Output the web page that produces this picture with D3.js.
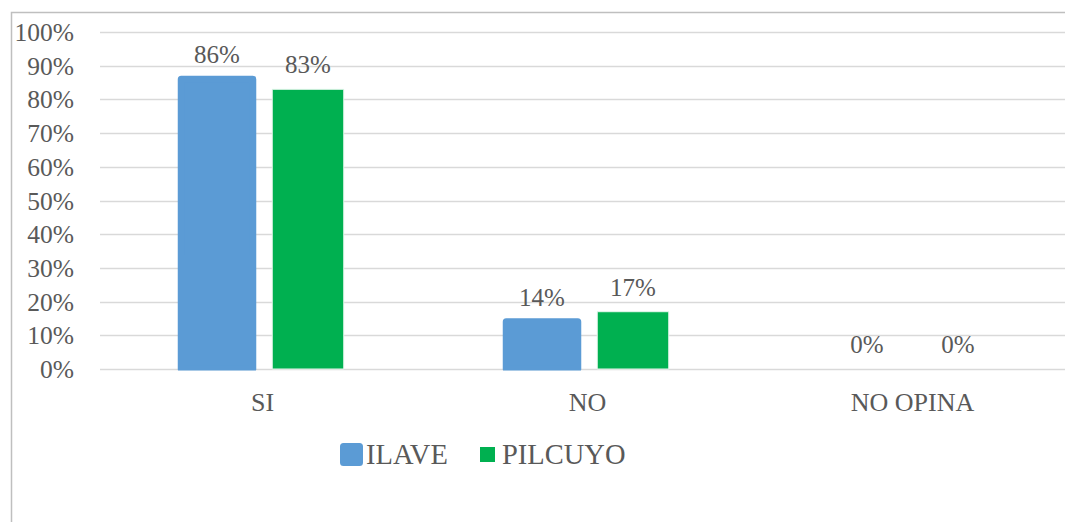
<!DOCTYPE html>
<html>
<head>
<meta charset="utf-8">
<script src="https://cdn.jsdelivr.net/npm/d3@7/dist/d3.min.js"></script>
<style>
  body { margin: 0; background: #fff; font-family: 'Liberation Serif', 'Times New Roman', serif; }
  #chart text { font-family: 'Liberation Serif', 'Times New Roman', serif; }
</style>
</head>
<body>
<div id="chart"></div>
<script>
// data
const categories = ['SI', 'NO', 'NO OPINA'];
const seriesNames = ['ILAVE', 'PILCUYO'];
const ilave = [0.86, 0.14, 0];
const pilcuyo = [0.83, 0.17, 0];
const yTicks = [0, 0.1, 0.2, 0.3, 0.4, 0.5, 0.6, 0.7, 0.8, 0.9, 1];

const colors = { ILAVE: '#5B9BD5', PILCUYO: '#00B050' };
const W = 1065, H = 522;
const plot = { left: 100, right: 1075, top: 32, bottom: 369 };

const svg = d3.select('#chart').append('svg')
  .attr('width', W)
  .attr('height', H);

// chart frame (runs off right and bottom edge)
svg.append('rect')
  .attr('x', 11.5).attr('y', 12.5)
  .attr('width', 1200).attr('height', 700)
  .attr('fill', 'none')
  .attr('stroke', '#bfbfbf')
  .attr('stroke-width', 1.5);

let x = d3.scaleBand()
  .domain(categories)
  .range([plot.left, plot.right])
  .padding(0);

let bw = x.bandwidth();
let x1 = d3.scaleBand()
  .domain(seriesNames)
  .range([bw * 0.25, bw * 0.75])
  .paddingInner(0.214)
  .paddingOuter(0);

let y = d3.scaleLinear()
  .domain([0, 1])
  .range([plot.bottom, plot.top]);

// gridlines
svg.append('g')
  .selectAll('line')
  .data(yTicks)
  .enter().append('line')
  .attr('x1', plot.left).attr('x2', W)
  .attr('y1', d => Math.round(y(d)) + 0.5)
  .attr('y2', d => Math.round(y(d)) + 0.5)
  .attr('stroke', '#d9d9d9')
  .attr('stroke-width', 1.5);

function addText(sel, size) {
  return sel.append('text')
    .style('font-family', "'Liberation Serif', 'Times New Roman', serif")
    .style('font-size', size + 'px')
    .attr('fill', '#595959');
}

// y tick labels
yTicks.forEach(t => {
  addText(svg, 25.5)
    .attr('x', 74)
    .attr('y', y(t) + 9)
    .attr('text-anchor', 'end')
    .text(d3.format('.0%')(t));
});

const rows = categories.map((c, i) => ({ cat: c, ILAVE: ilave[i], PILCUYO: pilcuyo[i] }));

svg.append('clipPath').attr('id', 'plotclip')
  .append('rect')
  .attr('x', 0).attr('y', 0)
  .attr('width', W).attr('height', plot.bottom + 1.5);

const groups = svg.append('g')
  .attr('clip-path', 'url(#plotclip)')
  .selectAll('g')
  .data(rows)
  .enter().append('g')
  .attr('transform', d => 'translate(' + x(d.cat) + ',0)');

groups.selectAll('rect')
  .data(d => seriesNames.map(s => ({ s: s, v: d[s] })).filter(e => e.v > 0))
  .enter().append('rect')
  .attr('x', d => x1(d.s))
  .attr('width', x1.bandwidth())
  .attr('y', d => y(d.v))
  .attr('height', d => plot.bottom - y(d.v))
  .attr('fill', d => colors[d.s])
  .attr('stroke', d => d.s === 'ILAVE' ? colors.ILAVE : '#e8f7ee')
  .attr('stroke-width', d => d.s === 'ILAVE' ? 7 : 1)
  .attr('stroke-linejoin', 'round');

// value labels
rows.forEach(d => {
  seriesNames.forEach(s => {
    addText(svg, 25)
      .attr('x', x(d.cat) + x1(s) + x1.bandwidth() / 2)
      .attr('y', y(d[s]) - 16)
      .attr('text-anchor', 'middle')
      .text(Math.round(d[s] * 100) + '%');
  });
});

// category labels
categories.forEach(c => {
  addText(svg, 26)
    .attr('x', x(c) + bw / 2)
    .attr('y', 411)
    .attr('text-anchor', 'middle')
    .text(c);
});

// legend
svg.append('rect')
  .attr('x', 343.5).attr('y', 446.5)
  .attr('width', 16).attr('height', 16)
  .attr('fill', colors.ILAVE)
  .attr('stroke', colors.ILAVE)
  .attr('stroke-width', 7)
  .attr('stroke-linejoin', 'round');
addText(svg, 28.5)
  .attr('x', 366).attr('y', 464)
  .text(seriesNames[0]);
svg.append('rect')
  .attr('x', 480).attr('y', 447)
  .attr('width', 15).attr('height', 15)
  .attr('fill', colors.PILCUYO);
addText(svg, 28.5)
  .attr('x', 502).attr('y', 464)
  .text(seriesNames[1]);
</script>
</body>
</html>
